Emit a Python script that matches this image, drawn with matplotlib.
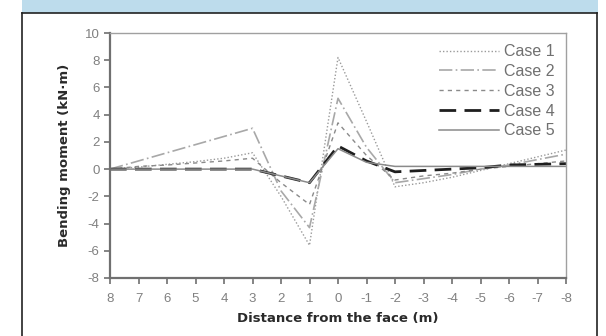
import numpy as np
import matplotlib.pyplot as plt
from matplotlib.patches import Rectangle

plt.rcParams['font.family'] = ['Liberation Sans', 'DejaVu Sans']

# distance from the face (m), left to right on the plot
dist = [8, 7, 6, 5, 4, 3, 2, 1, 0, -1, -2, -3, -4, -5, -6, -7, -8]

case1 = [0, 0.15, 0.35, 0.55, 0.8, 1.2, -2.0, -5.6, 8.2, 3.5, -1.3, -1.0, -0.6, -0.1, 0.4, 0.9, 1.4]
case2 = [0, 0.6, 1.2, 1.8, 2.4, 3.0, -1.6, -4.3, 5.2, 1.6, -1.0, -0.7, -0.4, 0.0, 0.3, 0.7, 1.1]
case3 = [0, 0.2, 0.3, 0.45, 0.6, 0.8, -1.0, -2.6, 3.4, 1.0, -0.8, -0.5, -0.3, 0.0, 0.2, 0.4, 0.6]
case4 = [0, 0, 0, 0, 0, 0, -0.5, -1.0, 1.7, 0.6, -0.2, -0.1, 0.0, 0.1, 0.3, 0.35, 0.4]
case5 = [0, 0, 0, 0, 0, 0, -0.5, -1.0, 1.5, 0.5, 0.2, 0.2, 0.2, 0.2, 0.2, 0.2, 0.2]

labels = ['Case 1', 'Case 2', 'Case 3', 'Case 4', 'Case 5']
yticks = [10, 8, 6, 4, 2, 0, -2, -4, -6, -8]

fig = plt.figure(figsize=(6.06, 3.36), dpi=100)

# blue header band and black frame
fig.patches.append(Rectangle((22 / 606, 1 - 13 / 336), 576 / 606, 13 / 336,
                             transform=fig.transFigure, facecolor='#bddcec',
                             edgecolor='none', zorder=0))
fig.add_artist(plt.Line2D([22 / 606, 22 / 606], [0, 1 - 13 / 336], color='#222', lw=1.2,
                          transform=fig.transFigure))
fig.add_artist(plt.Line2D([597 / 606, 597 / 606], [0, 1 - 13 / 336], color='#222', lw=1.2,
                          transform=fig.transFigure))
fig.add_artist(plt.Line2D([22 / 606, 597 / 606], [1 - 13 / 336, 1 - 13 / 336], color='#222', lw=1.2,
                          transform=fig.transFigure))

ax = fig.add_axes([110 / 606, 1 - 278 / 336, 456 / 606, 245 / 336])

styles = [
    dict(color='#9a9a9a', lw=1.0, linestyle=(0, (1, 1.5))),
    dict(color='#a8a8a8', lw=1.2, linestyle=(0, (8, 2, 1, 2))),
    dict(color='#8a8a8a', lw=1.0, linestyle=(0, (3, 3))),
    dict(color='#1e1e1e', lw=2.0, linestyle=(0, (6, 3))),
    dict(color='#8a8a8a', lw=1.1, linestyle='-'),
]
for vals, lab, st in zip([case1, case2, case3, case4, case5], labels, styles):
    ax.plot(dist, vals, label=lab, **st)

ax.set_xlim(8, -8)
ax.set_ylim(-8, 10)
ax.set_xticks(dist)
ax.set_xticklabels([str(d) for d in dist])
ax.set_yticks(yticks)
ax.set_yticklabels([str(v) for v in yticks])

for s in ['top', 'right']:
    ax.spines[s].set_color('#a0a0a0')
    ax.spines[s].set_linewidth(1.0)
for s in ['left', 'bottom']:
    ax.spines[s].set_color('#707070')
    ax.spines[s].set_linewidth(1.6)

ax.tick_params(axis='both', direction='out', length=4, width=1.2, color='#707070',
               labelcolor='#808080', labelsize=9.5)
ax.tick_params(axis='x', pad=7)

ax.set_xlabel('Distance from the face (m)', fontsize=9.5, fontweight='bold', color='#2a2a2a',
              family=['DejaVu Sans'], labelpad=5)
ax.set_ylabel('Bending moment (kN\u00b7m)', fontsize=9.5, fontweight='bold', color='#2a2a2a',
              family=['DejaVu Sans'], labelpad=10)

leg = ax.legend(loc='upper right', frameon=False, fontsize=11.5, handlelength=3.8,
                labelspacing=0.3, handletextpad=0.3, borderaxespad=0.3)
for t in leg.get_texts():
    t.set_color('#707070')

fig.savefig('out.png', dpi=100)
